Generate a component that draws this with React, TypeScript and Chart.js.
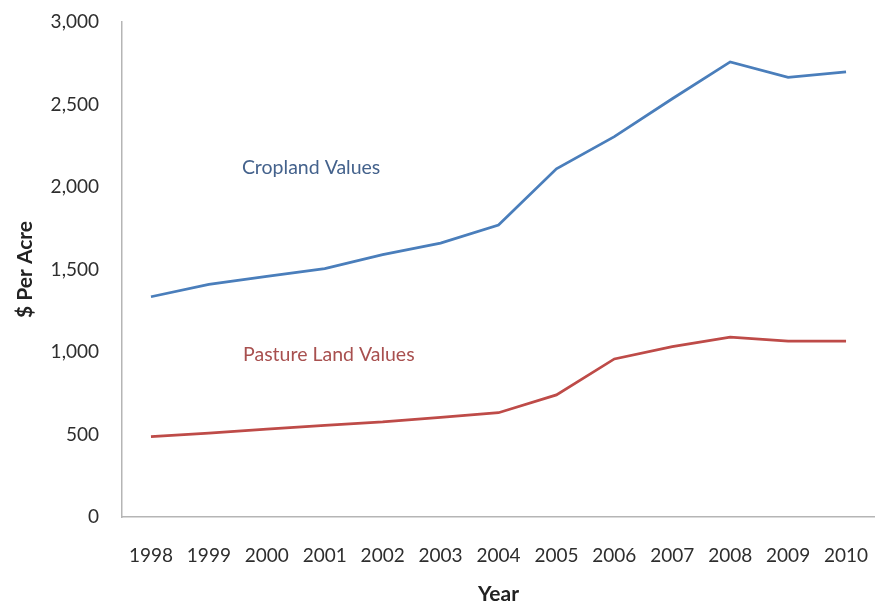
import React, { useEffect, useRef } from "react";
import { Chart, registerables } from "chart.js";

Chart.register(...registerables);

const years = ["1998", "1999", "2000", "2001", "2002", "2003", "2004", "2005", "2006", "2007", "2008", "2009", "2010"];
const croplandValues = [1335, 1410, 1458, 1505, 1590, 1660, 1770, 2110, 2305, 2535, 2758, 2665, 2698];
const pastureValues = [487, 508, 532, 556, 576, 604, 632, 740, 958, 1032, 1090, 1066, 1066];
const yMin = 0;
const yMax = 3000;
const yStep = 500;

const seriesNames = ["Cropland Values", "Pasture Land Values"];
const seriesColors = ["#4a7ebb", "#be4b48"];
const labelColors = ["#44628c", "#a8504f"];
// label anchor in data coordinates: [category index, value]
const labelAnchors = [
  [1.57, 2115],
  [1.59, 982],
];

const FONT = "Lato, 'Open Sans', sans-serif";

const seriesLabelPlugin = {
  id: "seriesLabels",
  afterDatasetsDraw(chart: any) {
    const { ctx, scales } = chart;
    ctx.save();
    ctx.font = `19.5px ${FONT}`;
    ctx.textAlign = "left";
    ctx.textBaseline = "middle";
    seriesNames.forEach((name, i) => {
      const x = scales.x.getPixelForValue(labelAnchors[i][0]);
      const y = scales.y.getPixelForValue(labelAnchors[i][1]);
      ctx.fillStyle = labelColors[i];
      ctx.fillText(name, x, y);
    });
    ctx.restore();
  },
};

export default function App() {
  const canvasRef = useRef<HTMLCanvasElement | null>(null);

  useEffect(() => {
    if (!canvasRef.current) return;
    const chart = new Chart(canvasRef.current, {
      type: "line",
      data: {
        labels: years,
        datasets: [
          {
            label: seriesNames[0],
            data: croplandValues,
            borderColor: seriesColors[0],
            backgroundColor: seriesColors[0],
            borderWidth: 2.75,
            pointRadius: 0,
            tension: 0,
          },
          {
            label: seriesNames[1],
            data: pastureValues,
            borderColor: seriesColors[1],
            backgroundColor: seriesColors[1],
            borderWidth: 2.75,
            pointRadius: 0,
            tension: 0,
          },
        ],
      },
      options: {
        responsive: false,
        animation: false,
        layout: { padding: { top: 22, left: 0, right: -4, bottom: 0 } },
        plugins: {
          legend: { display: false },
          tooltip: { enabled: false },
        },
        scales: {
          x: {
            type: "category",
            offset: true,
            grid: { display: false, drawTicks: false },
            border: { display: true, color: "#b5b5b5", width: 1.5 },
            ticks: {
              color: "#2e2e2e",
              font: { family: FONT, size: 19 },
              padding: 27,
              maxRotation: 0,
              autoSkip: false,
            },
            title: {
              display: true,
              text: "Year",
              color: "#222",
              font: { family: FONT, size: 21, weight: "bold" },
              padding: { top: 0, bottom: -5 },
            },
            afterFit: (scale: any) => {
              scale.height = 85;
              scale.paddingLeft = 0;
              scale.paddingRight = 0;
            },
          },
          y: {
            type: "linear",
            min: yMin,
            max: yMax,
            grid: { display: false, drawTicks: false },
            border: { display: true, color: "#b5b5b5", width: 1.5 },
            ticks: {
              stepSize: yStep,
              color: "#2e2e2e",
              font: { family: FONT, size: 19 },
              padding: 23,
              callback: (v: any) => Number(v).toLocaleString("en-US"),
            },
            title: {
              display: true,
              text: "$ Per Acre",
              color: "#222",
              font: { family: FONT, size: 21, weight: "bold" },
              padding: { top: 13, bottom: 0 },
            },
            afterFit: (scale: any) => {
              scale.width = 122;
              scale.paddingTop = 0;
              scale.paddingBottom = 0;
            },
          },
        },
      },
      plugins: [seriesLabelPlugin],
    } as any);
    return () => chart.destroy();
  }, []);

  return (
    <div style={{ position: "absolute", left: 0, top: 0, width: 875, height: 602, background: "#fff" }}>
      <canvas ref={canvasRef} width={875} height={602} style={{ display: "block" }} />
    </div>
  );
}
